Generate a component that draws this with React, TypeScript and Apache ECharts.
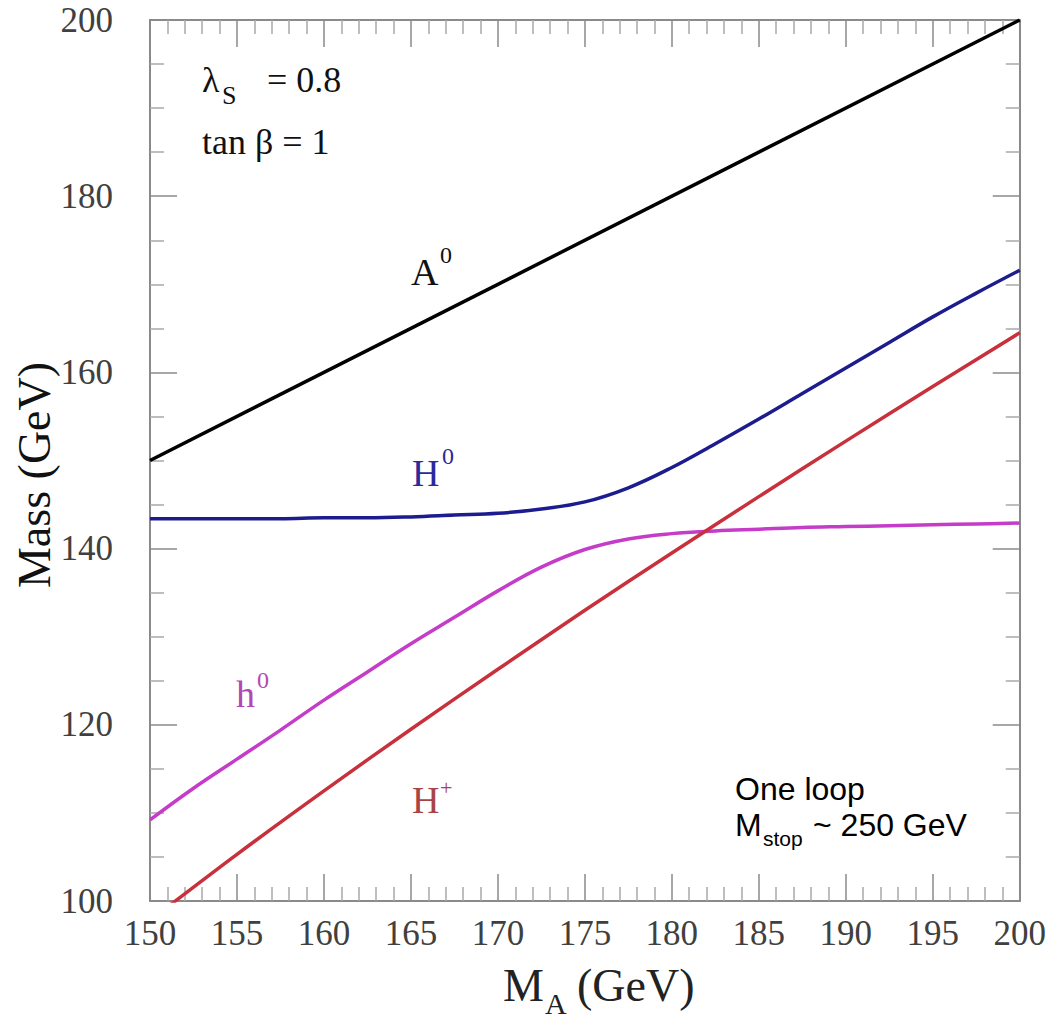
import React, { useEffect, useRef } from "react";
import * as echarts from "echarts";

// M_A values (GeV)
const maGrid = [150, 152.5, 155, 157.5, 160, 162.5, 165, 167.5, 170, 172.5, 175, 177.5, 180, 182.5, 185, 187.5, 190, 192.5, 195, 197.5, 200];

// A0 mass (straight line)
const a0X = [150, 200];
const a0Y = [150, 200];

// H0 mass
const h0HeavyY = [143.4, 143.4, 143.4, 143.4, 143.5, 143.5, 143.6, 143.8, 144.0, 144.5, 145.3, 146.9, 149.2, 151.9, 154.7, 157.6, 160.5, 163.4, 166.3, 169.0, 171.6];

// h0 mass
const h0LightY = [109.2, 112.8, 116.1, 119.4, 122.8, 126.0, 129.2, 132.2, 135.2, 137.9, 139.9, 141.1, 141.7, 142.0, 142.2, 142.4, 142.5, 142.6, 142.7, 142.8, 142.9];

// H+ mass
const hPlusX = [150, 155, 160, 165, 170, 175, 180, 185, 190, 195, 200];
const hPlusY = [97.8, 105.3, 112.5, 119.5, 126.3, 133.0, 139.5, 145.9, 152.2, 158.4, 164.5];

const SERIF = "Liberation Serif";
const SANS = "Liberation Sans";

function zip(xs: number[], ys: number[]) {
  return xs.map((x, i) => [x, ys[i]]);
}

const axisColor = "#8a8a8a";

function makeX(position: "bottom" | "top", labels: boolean) {
  return {
    type: "value",
    min: 150,
    max: 200,
    interval: 5,
    position,
    axisLine: { show: true, onZero: false, lineStyle: { color: axisColor, width: 2 } },
    axisTick: { show: true, inside: true, length: 27, lineStyle: { color: axisColor, width: 1.5 } },
    minorTick: { show: true, splitNumber: 5, length: 14, lineStyle: { color: "#a8a8a8", width: 1.5 } },
    splitLine: { show: false },
    minorSplitLine: { show: false },
    axisLabel: {
      show: labels,
      fontFamily: SERIF,
      fontSize: 35,
      color: "#404040",
      margin: 15,
    },
  };
}

function makeY(position: "left" | "right", labels: boolean) {
  return {
    type: "value",
    min: 100,
    max: 200,
    interval: 20,
    position,
    axisLine: { show: true, onZero: false, lineStyle: { color: axisColor, width: 2 } },
    axisTick: { show: true, inside: true, length: 27, lineStyle: { color: axisColor, width: 1.5 } },
    minorTick: { show: true, splitNumber: 4, length: 14, lineStyle: { color: "#a8a8a8", width: 1.5 } },
    splitLine: { show: false },
    minorSplitLine: { show: false },
    axisLabel: {
      show: labels,
      fontFamily: SERIF,
      fontSize: 35,
      color: "#404040",
      margin: 37,
    },
  };
}

function txt(x: number, y: number, text: string, size: number, family: string, fill: string) {
  return {
    type: "text",
    x,
    y,
    style: { text, fontSize: size, fontFamily: family, fill, verticalAlign: "middle" },
  };
}

export default function App() {
  const ref = useRef<HTMLDivElement>(null);
  useEffect(() => {
    document.body.style.margin = "0";
    const chart = echarts.init(ref.current!, undefined, { renderer: "svg" });
    const lineBase = { type: "line", showSymbol: false, symbol: "none", xAxisIndex: 0, yAxisIndex: 0, clip: true };
    chart.setOption({
      animation: false,
      backgroundColor: "#ffffff",
      grid: { left: 150, right: 28, top: 20, bottom: 120 },
      xAxis: [makeX("bottom", true), makeX("top", false)],
      yAxis: [makeY("left", true), makeY("right", false)],
      series: [
        { ...lineBase, name: "A0", data: zip(a0X, a0Y), lineStyle: { color: "#000000", width: 3.5 } },
        { ...lineBase, name: "H0", smooth: 0.4, data: zip(maGrid, h0HeavyY), lineStyle: { color: "#1c1c8e", width: 3.5 } },
        { ...lineBase, name: "h0", smooth: 0.4, data: zip(maGrid, h0LightY), lineStyle: { color: "#c53cc8", width: 3.5 } },
        { ...lineBase, name: "H+", smooth: 0.3, data: zip(hPlusX, hPlusY), lineStyle: { color: "#c8303c", width: 3.5 } },
      ],
      graphic: [
        // parameters box
        txt(202, 80, "λ", 36, SERIF, "#111"),
        txt(222, 95, "S", 26, SERIF, "#111"),
        txt(267, 80, "= 0.8", 36, SERIF, "#111"),
        txt(202, 142, "tan β = 1", 36, SERIF, "#111"),
        // curve labels
        txt(411, 272, "A", 38, SERIF, "#111"),
        txt(440, 255, "0", 24, SERIF, "#111"),
        txt(412, 473, "H", 38, SERIF, "#2a2a9c"),
        txt(442, 456, "0", 24, SERIF, "#2a2a9c"),
        txt(236, 694, "h", 38, SERIF, "#b348b5"),
        txt(257, 680, "0", 24, SERIF, "#b348b5"),
        txt(412, 800, "H", 38, SERIF, "#a84448"),
        txt(440, 787, "+", 22, SERIF, "#a84448"),
        // one-loop note
        txt(735, 789, "One loop", 32, SANS, "#000"),
        txt(735, 825, "M", 32, SANS, "#000"),
        txt(763, 838, "stop", 21, SANS, "#000"),
        txt(813, 825, "~ 250 GeV", 32, SANS, "#000"),
        // axis titles
        {
          type: "text",
          x: 34,
          y: 475,
          rotation: Math.PI / 2,
          style: { text: "Mass (GeV)", fontSize: 46, fontFamily: SERIF, fill: "#111", align: "center", verticalAlign: "middle" },
        },
        txt(503, 985, "M", 46, SERIF, "#222"),
        txt(545, 1003, "A", 30, SERIF, "#222"),
        txt(577, 985, "(GeV)", 46, SERIF, "#222"),
      ],
    });
    return () => chart.dispose();
  }, []);
  return <div ref={ref} style={{ width: 1049, height: 1021 }} />;
}
